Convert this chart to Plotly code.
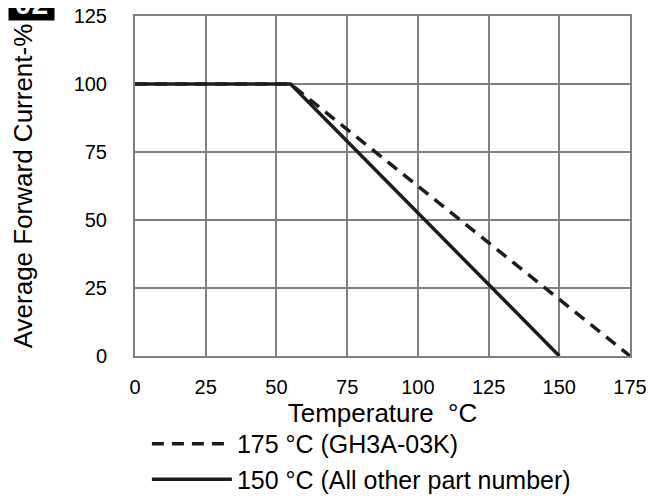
import plotly.graph_objects as go

# Data
temps_175 = [0, 55, 175]
current_175 = [100, 100, 0]
temps_150 = [0, 55, 150]
current_150 = [100, 100, 0]

x_ticks = [0, 25, 50, 75, 100, 125, 150, 175]
y_ticks = [0, 25, 50, 75, 100, 125]

FONT = "Liberation Sans, Arial, sans-serif"
GRID = "#808080"
INK = "#1c1c1c"

# the page body has an 8px margin, so the figure is sized/offset to compensate
W, H = 647, 490
ML, MR, MT, MB = 127, 25, 8, 142
PW = W - ML - MR
PH = H - MT - MB

fig = go.Figure()
fig.add_trace(go.Scatter(
    x=temps_175, y=current_175, mode="lines",
    name="175 °C (GH3A-03K)", legendgroup="a",
    line=dict(color=INK, width=3.5, dash="12px,8px"),
    cliponaxis=False,
))
fig.add_trace(go.Scatter(
    x=temps_150, y=current_150, mode="lines",
    name="150 °C (All other part number)", legendgroup="b",
    line=dict(color=INK, width=3.5),
    cliponaxis=False,
))

fig.update_layout(
    width=W, height=H,
    margin=dict(l=ML, r=MR, t=MT, b=MB, autoexpand=False),
    paper_bgcolor="white", plot_bgcolor="white",
    font=dict(family=FONT, color="black"),
    showlegend=True,
    legend=dict(
        x=0.024, y=-0.191, xanchor="left", yanchor="top",
        font=dict(size=25, family=FONT, color="black"),
        traceorder="grouped", tracegroupgap=0,
        itemwidth=80,
        bgcolor="rgba(0,0,0,0)",
    ),
    annotations=[dict(
        text="<b>02</b>", xref="paper", yref="paper",
        x=-ML / PW, y=(PH + MT + 29) / PH, xanchor="left", yanchor="top",
        showarrow=False, bgcolor="black", width=45, height=40,
        valign="bottom", borderpad=0,
        font=dict(size=30, color="white", family=FONT),
    )],
)

fig.update_xaxes(
    range=[0, 175], tickvals=x_ticks, ticktext=[str(v) for v in x_ticks],
    showgrid=True, gridcolor=GRID, gridwidth=2,
    showline=True, linecolor=GRID, linewidth=2, mirror=True,
    zeroline=False, ticks="", ticklabelstandoff=12, automargin=False,
    ticklabeloverflow="allow",
    tickfont=dict(size=20, family=FONT, color="black"),
    title=dict(text="Temperature  °C", font=dict(size=26, family=FONT, color="black"), standoff=3),
)
fig.update_yaxes(
    range=[0, 125], tickvals=y_ticks, ticktext=[str(v) for v in y_ticks],
    showgrid=True, gridcolor=GRID, gridwidth=2,
    showline=True, linecolor=GRID, linewidth=2, mirror=True,
    zeroline=False, ticks="", ticklabelstandoff=22, automargin=False,
    ticklabeloverflow="allow",
    tickfont=dict(size=20, family=FONT, color="black"),
    title=dict(text="Average Forward Current-%", font=dict(size=26, family=FONT, color="black"), standoff=39),
)

fig.write_html("out.html")
